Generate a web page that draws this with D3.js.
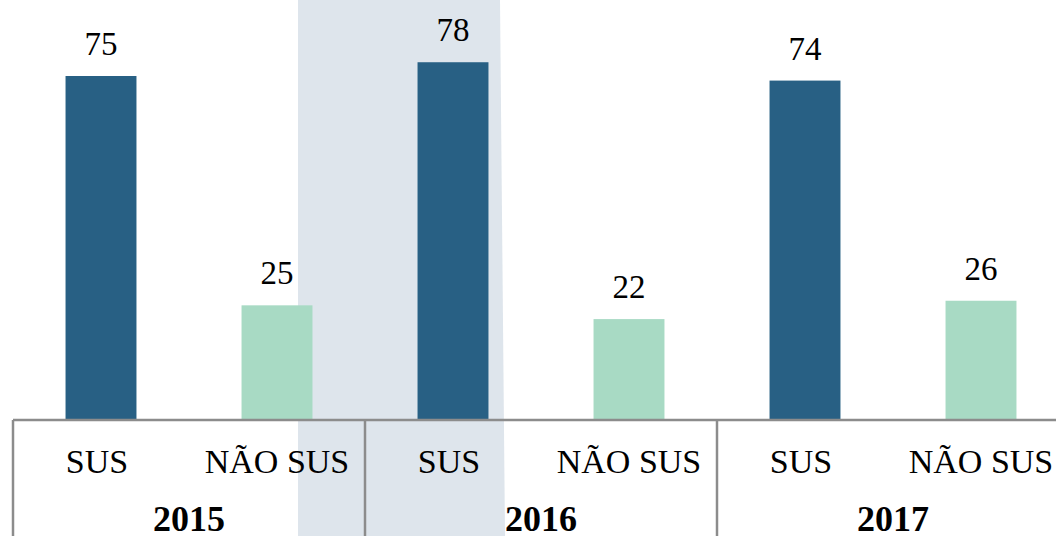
<!DOCTYPE html>
<html>
<head>
<meta charset="utf-8">
<script src="https://cdn.jsdelivr.net/npm/d3@7"></script>
<style>
  body { margin: 0; background: #fff; }
  svg { display: block; font-family: "Liberation Serif", "Times New Roman", serif; }
</style>
</head>
<body>
<div id="chart"></div>
<script>
// Data
const years = ["2015", "2016", "2017"];
const categories = ["SUS", "NÃO SUS"];
const susValues = [75, 78, 74];
const naoSusValues = [25, 22, 26];

const data = [];
years.forEach((yr, i) => {
  data.push({year: yr, cat: "SUS", value: susValues[i]});
  data.push({year: yr, cat: "NÃO SUS", value: naoSusValues[i]});
});

const width = 1056;
const height = 536;
const baseline = 420;

const svg = d3.select("#chart")
  .append("svg")
  .attr("width", width)
  .attr("height", height);

// background highlight band (slightly skewed, as in the original slide)
svg.append("path")
  .attr("d", "M298,0 L500,0 L505,536 L298,536 Z")
  .attr("fill", "#dee5ec");

// Scales
const x0 = d3.scaleBand()
  .domain(years)
  .range([13, 13 + 352 * 3])
  .padding(0);

const x1 = d3.scaleBand()
  .domain(categories)
  .range([0, x0.bandwidth()])
  .paddingInner(0.597)
  .paddingOuter(0.597 / 2);

const y = d3.scaleLinear()
  .domain([0, 75])
  .range([baseline, 76]);

const color = d3.scaleOrdinal()
  .domain(categories)
  .range(["#286084", "#a8dac4"]);

// Bars
const groups = svg.selectAll(".year")
  .data(years)
  .enter()
  .append("g")
  .attr("transform", d => `translate(${x0(d)},0)`);

groups.each(function(yr) {
  const g = d3.select(this);
  const rows = data.filter(d => d.year === yr);

  g.selectAll("rect")
    .data(rows)
    .enter()
    .append("rect")
    .attr("x", d => x1(d.cat))
    .attr("y", d => y(d.value))
    .attr("width", x1.bandwidth())
    .attr("height", d => baseline - y(d.value))
    .attr("fill", d => color(d.cat));

  // value labels
  g.selectAll(".val")
    .data(rows)
    .enter()
    .append("text")
    .attr("x", d => x1(d.cat) + x1.bandwidth() / 2)
    .attr("y", d => y(d.value) - 21)
    .attr("text-anchor", "middle")
    .style("font-size", "33px")
    .text(d => d.value);

  // category labels (SUS sits a little left of its bar in the original)
  g.selectAll(".cat")
    .data(categories)
    .enter()
    .append("text")
    .attr("x", d => x1(d) + x1.bandwidth() / 2)
    .attr("dx", d => d === "SUS" ? -4 : 0)
    .attr("y", 473)
    .attr("text-anchor", "middle")
    .style("font-size", "34px")
    .text(d => d);

  // year label
  g.append("text")
    .attr("x", x0.bandwidth() / 2)
    .attr("y", 531)
    .attr("text-anchor", "middle")
    .style("font-size", "36px")
    .style("font-weight", "bold")
    .text(yr);
});

// axis line and group separators
svg.append("line")
  .attr("x1", x0.range()[0])
  .attr("x2", width)
  .attr("y1", baseline)
  .attr("y2", baseline)
  .attr("stroke", "#8c8c8c")
  .attr("stroke-width", 2.5);

svg.selectAll(".sep")
  .data(years)
  .enter()
  .append("line")
  .attr("x1", d => x0(d))
  .attr("x2", d => x0(d))
  .attr("y1", baseline)
  .attr("y2", height)
  .attr("stroke", "#8c8c8c")
  .attr("stroke-width", 2.5);
</script>
</body>
</html>
